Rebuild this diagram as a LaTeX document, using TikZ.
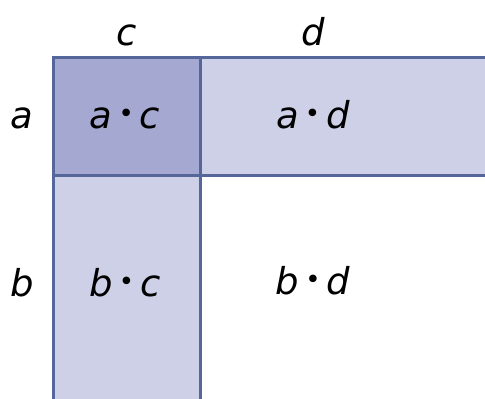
\documentclass[tikz,border=0pt]{standalone}
\usepackage{fontspec}
\setmainfont{DejaVu Sans}
\definecolor{darkcell}{HTML}{A5A8D0}
\definecolor{lightcell}{HTML}{CDD0E6}
\definecolor{gridline}{HTML}{55669A}
\begin{document}
\begin{tikzpicture}[x=1pt,y=-1pt,
  lbl/.style={anchor=base,inner sep=0pt,font=\fontsize{37}{40}\selectfont\itshape},
  gl/.style={draw=gridline,line width=3pt}]
\useasboundingbox (0,0) rectangle (485,399);
\fill[darkcell] (53,57) rectangle (200,175);
\fill[lightcell] (200,57) rectangle (485,175);
\fill[lightcell] (53,175) rectangle (200,399);
\draw[gl] (53,399) -- (53,57) -- (485,57);
\draw[gl] (53,175) -- (485,175);
\draw[gl] (200,57) -- (200,399);
\node[lbl] (lc) at (127,45) {c};
\node[lbl] (ld) at (313,45) {d};
\node[lbl] (la) at (22,128) {a};
\node[lbl] (lb) at (22,296) {b};
\node[lbl] (ac) at (125,128) {a\,\raisebox{0.15em}{\scalebox{0.7}{•}}\,c};
\node[lbl] (ad) at (313,128) {a\,\raisebox{0.15em}{\scalebox{0.7}{•}}\,d};
\node[lbl] (bc) at (125,296) {b\,\raisebox{0.15em}{\scalebox{0.7}{•}}\,c};
\node[lbl] (bd) at (313,294) {b\,\raisebox{0.15em}{\scalebox{0.7}{•}}\,d};
\end{tikzpicture}
\end{document}
